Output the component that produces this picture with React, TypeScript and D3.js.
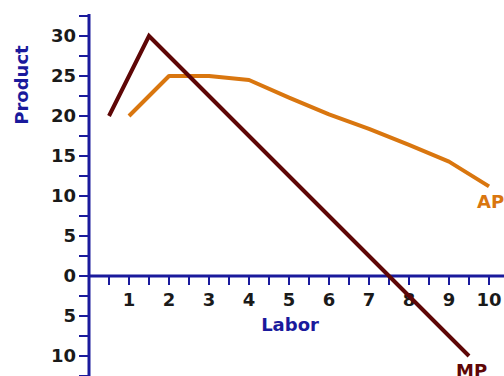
import React from "react";
import * as d3 from "d3";

const mpLabor = [0.5, 1.5, 9.5];
const mpValues = [20, 30, -10];
const apLabor = [1, 2, 3, 4, 5, 6, 7, 8, 9, 10];
const apValues = [20, 25, 25, 24.5, 22.3, 20.2, 18.4, 16.4, 14.3, 11.2];
const xTickLabels = [1, 2, 3, 4, 5, 6, 7, 8, 9, 10];
const yTickLabels = [30, 25, 20, 15, 10, 5, 0, -5, -10];

const W = 504;
const H = 376;
const AXIS = "#1a1a9c";
const MP = "#5e0606";
const AP = "#d9760f";
const FONT = "Verdana, 'DejaVu Sans', sans-serif";

export default function App() {
  const x = d3.scaleLinear().domain([0, 10]).range([89, 489]);
  const y = d3.scaleLinear().domain([0, 30]).range([276, 36]);

  const line = d3
    .line<[number, number]>()
    .x((d) => x(d[0]))
    .y((d) => y(d[1]));

  const mpData: [number, number][] = mpLabor.map((l, i) => [l, mpValues[i]]);
  const apData: [number, number][] = apLabor.map((l, i) => [l, apValues[i]]);

  const yMinor = d3.range(-12.5, 32.6, 2.5);
  const xMinor = d3.range(0.5, 10.6, 0.5);

  return (
    <svg
      width={W}
      height={H}
      style={{ position: "fixed", left: 0, top: 0, background: "#fff" }}
      fontFamily={FONT}
    >
      {/* y axis */}
      <line x1={x(0)} x2={x(0)} y1={y(32.75)} y2={H} stroke={AXIS} strokeWidth={3} />
      {yMinor.map((v) => (
        <line key={"yt" + v} x1={x(0) - 10} x2={x(0)} y1={y(v)} y2={y(v)} stroke={AXIS} strokeWidth={2} />
      ))}
      {yTickLabels.map((v) => (
        <text
          key={"yl" + v}
          x={x(0) - 13}
          y={y(v)}
          dy="0.36em"
          textAnchor="end"
          fontSize={18}
          fontWeight="bold"
          fill="#1a1a1a"
        >
          {Math.abs(v)}
        </text>
      ))}
      {/* x axis */}
      <line x1={x(0)} x2={W} y1={y(0)} y2={y(0)} stroke={AXIS} strokeWidth={3} />
      {xMinor.map((v) => (
        <line key={"xt" + v} x1={x(v)} x2={x(v)} y1={y(0)} y2={y(0) + 9} stroke={AXIS} strokeWidth={2} />
      ))}
      {xTickLabels.map((v) => (
        <text
          key={"xl" + v}
          x={x(v)}
          y={y(0) + 30}
          textAnchor="middle"
          fontSize={18}
          fontWeight="bold"
          fill="#1a1a1a"
        >
          {v}
        </text>
      ))}
      <text x={290} y={331} textAnchor="middle" fontSize={18} fontWeight="bold" fill={AXIS}>
        Labor
      </text>
      <text
        transform={`translate(28,85) rotate(-90)`}
        textAnchor="middle"
        fontSize={18}
        fontWeight="bold"
        fill={AXIS}
      >
        Product
      </text>

      {/* curves */}
      <path d={line(apData) || ""} fill="none" stroke={AP} strokeWidth={4} strokeLinejoin="round" />
      <path d={line(mpData) || ""} fill="none" stroke={MP} strokeWidth={4} strokeLinejoin="miter" />

      <text x={477} y={208} fontSize={18} fontWeight="bold" fill={AP}>
        AP
      </text>
      <text x={456} y={377} fontSize={18} fontWeight="bold" fill={MP}>
        MP
      </text>
    </svg>
  );
}
